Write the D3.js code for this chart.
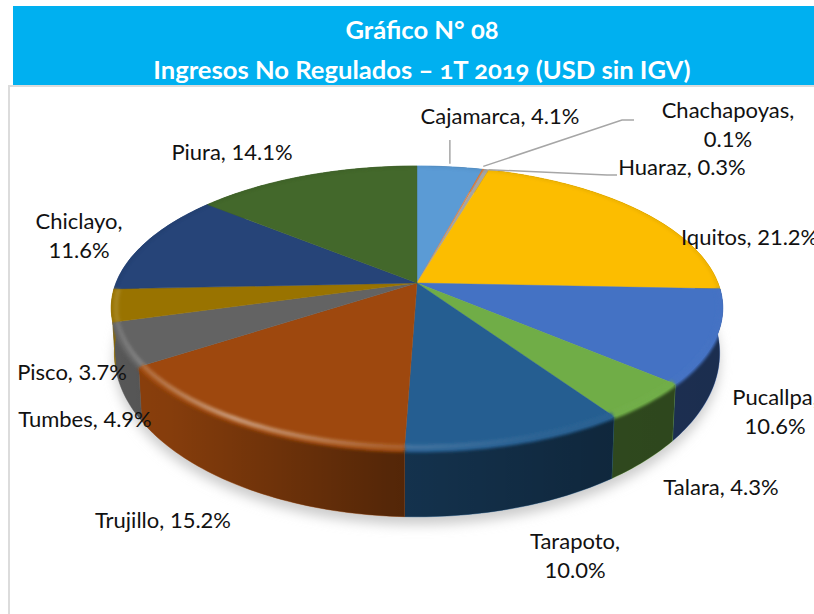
<!DOCTYPE html>
<html>
<head>
<meta charset="utf-8">
<script src="https://cdn.jsdelivr.net/npm/d3@7"></script>
<style>
html, body { margin: 0; padding: 0; background: #fff; overflow: hidden; }
svg { display: block; }
text { font-family: Lato, "Open Sans", sans-serif; }
</style>
</head>
<body>
<svg id="chart" width="814" height="614"></svg>
<script>
// data
const categories = ["Cajamarca", "Chachapoyas", "Huaraz", "Iquitos", "Pucallpa", "Talara", "Tarapoto", "Trujillo", "Tumbes", "Pisco", "Chiclayo", "Piura"];
const values = [4.1, 0.1, 0.3, 21.2, 10.6, 4.3, 10.0, 15.2, 4.9, 3.7, 11.6, 14.1];
const colors = ["#5b9bd5", "#ed7d31", "#a5a5a5", "#fcbd00", "#4472c4", "#70ad47", "#255e91", "#9e480e", "#636363", "#997300", "#264478", "#43682b"];
const titleLines = ["Gráfico N° 08", "Ingresos No Regulados – 1T 2019 (USD sin IGV)"];

const width = 814, height = 614;
const svg = d3.select("#chart");

// label placement: [x, baseline, anchor, wrapped onto two lines?]
const labelPos = {
    Cajamarca: [500, 124, "middle", false],
    Chachapoyas: [728, 118, "middle", true],
    Huaraz: [682, 175, "middle", false],
    Iquitos: [681, 245, "start", false],
    Pucallpa: [775, 405, "middle", true],
    Talara: [721, 495, "middle", false],
    Tarapoto: [575, 549, "middle", true],
    Trujillo: [163, 528, "middle", false],
    Tumbes: [85, 427, "middle", false],
    Pisco: [72, 380, "middle", false],
    Chiclayo: [79, 229, "middle", true],
    Piura: [232, 160, "middle", false]
};

// the pie lies on a tilted disc: top plane and bottom plane go through the same perspective
const cx = 417, cy = 283;
const k = 0.176;
const xScale = d3.scaleLinear().domain([-1, 1]).range([-301, 301]);
const yScale = d3.scaleLinear().domain([-1, 1]).range([-137.6, 137.6]);
const yScaleBottom = d3.scaleLinear().domain([-1, 1]).range([-153, 153]);

function topPlane(a, r = 1) {
    const u = r * Math.sin(a), v = -r * Math.cos(a);
    const w = 1 - k * v;
    return [cx + xScale(u) / w, cy + yScale(v) / w];
}

function bottomPlane(a) {
    const u = Math.sin(a), v = -Math.cos(a);
    const w = 1.01 - k * v;
    return [cx + xScale(u) / w, cy + (yScaleBottom(v) + 42) / w];
}

function arcPoints(fn, a0, a1) {
    const n = Math.max(2, Math.ceil((a1 - a0) / 0.02));
    return d3.range(n + 1).map(i => fn(a0 + (a1 - a0) * i / n));
}

const line = d3.line();
const pie = d3.pie().sort(null).value(d => d.value);
const slices = pie(categories.map((c, i) => ({ name: c, value: values[i], color: colors[i] })));

const defs = svg.append("defs");

defs.append("filter").attr("id", "shadowBlur")
    .attr("x", "-10%").attr("y", "-10%").attr("width", "120%").attr("height", "120%")
    .append("feGaussianBlur").attr("stdDeviation", 6);

defs.append("filter").attr("id", "rimBlur")
    .attr("filterUnits", "userSpaceOnUse")
    .attr("x", 0).attr("y", 0).attr("width", width).attr("height", height)
    .append("feGaussianBlur").attr("stdDeviation", 1.8);

// wall is lit from the left and falls off to the right
const wallShade = defs.append("linearGradient").attr("id", "wallShade")
    .attr("gradientUnits", "userSpaceOnUse")
    .attr("x1", 111).attr("x2", 723).attr("y1", 0).attr("y2", 0);
[[0, 0.12], [0.1, 0.16], [0.45, 0.46], [0.8, 0.58], [1, 0.6]].forEach(s => {
    wallShade.append("stop").attr("offset", s[0]).attr("stop-color", "#000").attr("stop-opacity", s[1]);
});

const rimShade = defs.append("linearGradient").attr("id", "rimShade")
    .attr("gradientUnits", "userSpaceOnUse")
    .attr("x1", 111).attr("x2", 723).attr("y1", 0).attr("y2", 0);
[[0, 0.1], [0.2, 0.42], [0.45, 0.14], [0.7, 0.03], [1, 0]].forEach(s => {
    rimShade.append("stop").attr("offset", s[0]).attr("stop-color", "#fff").attr("stop-opacity", s[1]);
});

// header + panel
svg.append("rect").attr("x", 13).attr("y", 6).attr("width", width - 13).attr("height", 80).attr("fill", "#00b0f0");
svg.append("rect").attr("x", 9).attr("y", 86).attr("width", width + 20).attr("height", height + 20)
    .attr("fill", "#fff").attr("stroke", "#dcdcdc").attr("stroke-width", 2);

svg.selectAll(".title").data(titleLines).join("text")
    .attr("class", "title")
    .attr("x", 422)
    .attr("y", (d, i) => i === 0 ? 39 : 79)
    .attr("text-anchor", "middle")
    .attr("fill", "#fff")
    .attr("font-size", 25.6)
    .attr("font-weight", 700)
    .style("font-feature-settings", "'onum'")
    .text(d => d);

// shadow under the body
const fullCircle = arcPoints(bottomPlane, 0, 2 * Math.PI);
svg.append("path")
    .attr("d", line(fullCircle.map(p => [p[0], p[1] + 8])) + "Z")
    .attr("fill", "#cccccc")
    .attr("filter", "url(#shadowBlur)");

// outer walls first, tops are painted over them
const clip = defs.append("clipPath").attr("id", "bodyClip");
const walls = svg.append("g");
slices.forEach(s => {
    const pts = arcPoints(topPlane, s.startAngle, s.endAngle)
        .concat(arcPoints(bottomPlane, s.startAngle, s.endAngle).reverse());
    const d = line(pts) + "Z";
    clip.append("path").attr("d", d);
    walls.append("path").attr("d", d).attr("fill", s.data.color).attr("stroke", s.data.color).attr("stroke-width", 0.5);
    walls.append("path").attr("d", d).attr("fill", "url(#wallShade)");
});

const tops = svg.append("g");
slices.forEach(s => {
    const pts = [topPlane(0, 0)].concat(arcPoints(topPlane, s.startAngle, s.endAngle));
    clip.append("path").attr("d", line(pts) + "Z");
    tops.append("path")
        .attr("d", line(pts) + "Z")
        .attr("fill", s.data.color)
        .attr("stroke", s.data.color)
        .attr("stroke-width", 0.4);
});

// soft bevel along the rim, kept inside the body outline
const rim = svg.append("g").attr("clip-path", "url(#bodyClip)");
slices.forEach(s => {
    const pts = arcPoints(a => topPlane(a, 0.995), s.startAngle, s.endAngle);
    const front = arcPoints(a => topPlane(a, 0.985), s.startAngle, s.endAngle);
    const visibleFront = Math.cos((s.startAngle + s.endAngle) / 2) < 0.1;
    if (visibleFront) {
        rim.append("path").attr("d", line(pts))
            .attr("fill", "none").attr("stroke", s.data.color)
            .attr("stroke-width", 7).attr("filter", "url(#rimBlur)");
        rim.append("path").attr("d", line(front))
            .attr("fill", "none").attr("stroke", "url(#rimShade)")
            .attr("stroke-width", 5).attr("filter", "url(#rimBlur)");
    } else {
        rim.append("path").attr("d", line(pts))
            .attr("fill", "none").attr("stroke", d3.color(s.data.color).darker(0.7))
            .attr("stroke-width", 1.6).attr("opacity", 0.4).attr("filter", "url(#rimBlur)");
    }
});

// leader lines for the small slices
const midAngle = name => {
    const s = slices.find(e => e.data.name === name);
    return (s.startAngle + s.endAngle) / 2;
};
const leaders = [
    { name: "Cajamarca", via: a => [[topPlane(a)[0], topPlane(a)[1] - 3], [topPlane(a)[0], 140]] },
    { name: "Chachapoyas", via: a => [[topPlane(a)[0], topPlane(a)[1] - 3], [622, 120], [634, 120]] },
    { name: "Huaraz", via: a => [[topPlane(a)[0] + 2, topPlane(a)[1]], [607, 175], [617, 175]] }
];
svg.append("g").selectAll("path").data(leaders).join("path")
    .attr("d", d => line(d.via(midAngle(d.name))))
    .attr("fill", "none")
    .attr("stroke", "#a6a6a6")
    .attr("stroke-width", 1.5);

// data labels
const labels = svg.append("g").attr("font-size", 22).attr("fill", "#111");
slices.forEach(s => {
    const pos = labelPos[s.data.name];
    const pct = s.data.value.toFixed(1) + "%";
    const t = labels.append("text").attr("x", pos[0]).attr("y", pos[1]).attr("text-anchor", pos[2]);
    if (pos[3]) {
        t.append("tspan").attr("x", pos[0]).text(s.data.name + ",");
        t.append("tspan").attr("x", pos[0]).attr("dy", 29).text(pct);
    } else {
        t.text(s.data.name + ", " + pct);
    }
});
</script>
</body>
</html>
